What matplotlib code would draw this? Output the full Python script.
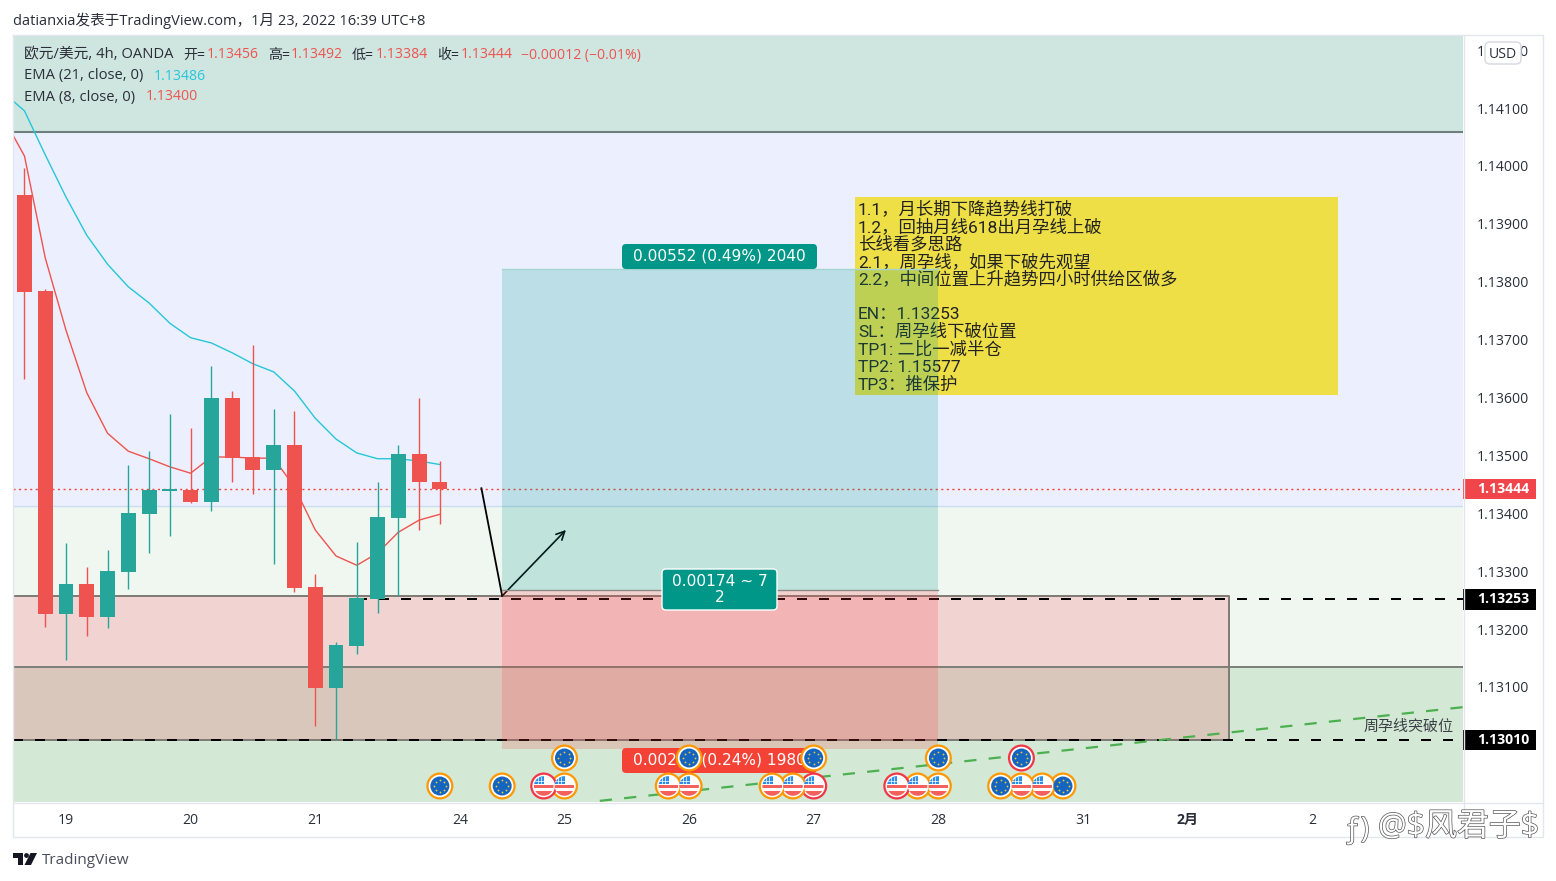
"""
plot.py - EUR/USD 4h TradingView snapshot with zones, position tool and events.
"""

import matplotlib

matplotlib.use("Agg")
import matplotlib.patheffects as pe
import matplotlib.pyplot as plt
import numpy as np
from matplotlib.lines import Line2D
from matplotlib.patches import Circle, FancyBboxPatch, Polygon, Rectangle
from matplotlib.transforms import Affine2D

W, H = 1556, 881
LATIN_CJK = ["Open Sans", "Noto Sans CJK SC"]
NOTE_FONT = ["Roboto", "Noto Sans CJK SC"]

RED = "#ef5350"
GREEN = "#26a69a"
CYAN = "#26c6da"
TEXT = "#2a2e39"
FRAME = "#e4e6ec"

# candles, bar 0 is the first one of the 19th
bars = list(range(-2, 19))
opens = [1.13952, 1.13786, 1.13228, 1.13280, 1.13223, 1.13300, 1.13401, 1.13440, 1.13442, 1.13421, 1.13601,
         1.13499, 1.13477, 1.13520, 1.13274, 1.13100, 1.13173, 1.13254, 1.13394, 1.13504, 1.13456]
highs = [1.13998, 1.13789, 1.13350, 1.13309, 1.13338, 1.13485, 1.13509, 1.13573, 1.13549, 1.13656, 1.13613,
         1.13692, 1.13582, 1.13578, 1.13297, 1.13180, 1.13352, 1.13456, 1.13520, 1.13601, 1.13492]
lows = [1.13634, 1.13205, 1.13148, 1.13190, 1.13204, 1.13271, 1.13333, 1.13363, 1.13419, 1.13406, 1.13456,
        1.13435, 1.13314, 1.13266, 1.13034, 1.13012, 1.13159, 1.13230, 1.13259, 1.13373, 1.13384]
closes = [1.13784, 1.13228, 1.13280, 1.13223, 1.13302, 1.13402, 1.13442, 1.13442, 1.13421, 1.13601, 1.13497,
          1.13477, 1.13520, 1.13273, 1.13100, 1.13174, 1.13256, 1.13395, 1.13504, 1.13456, 1.13444]

ema_bars = list(range(-3, 19))
ema21 = [1.14128, 1.14097, 1.14021, 1.13948, 1.13882, 1.13832, 1.13793, 1.13765, 1.13730, 1.13705, 1.13696,
         1.13679, 1.13660, 1.13646, 1.13613, 1.13566, 1.13530, 1.13506, 1.13496, 1.13496, 1.13492, 1.13486]
ema8 = [1.14084, 1.14019, 1.13843, 1.13718, 1.13610, 1.13540, 1.13509, 1.13496, 1.13482, 1.13471, 1.13499,
        1.13499, 1.13497, 1.13497, 1.13447, 1.13373, 1.13328, 1.13312, 1.13333, 1.13369, 1.13390, 1.13400]

# axes
x_ticks = [0, 6, 12, 19, 24, 30, 36, 42, 49, 54, 60]
x_labels = ["19", "20", "21", "24", "25", "26", "27", "28", "31", "2月", "2"]
y_ticks = [1.131, 1.132, 1.133, 1.134, 1.135, 1.136, 1.137, 1.138, 1.139, 1.140, 1.141, 1.142]
x_range = (-2.552, 67.26)
y_range = (1.12903, 1.14228)

# horizontal zones
zone_top = 1.14061
zone_mid = 1.13414
zone_low = 1.13136
box_top = 1.13259
entry_price = 1.13253
stop_price = 1.13010
last_price = 1.13444
box_right = 56

# position tool
pos_left, pos_right = 21, 42
pos_target, pos_entry, pos_stop = 1.13824, 1.13270, 1.12995

# hand drawn lines
swing_x = [20, 21]
swing_y = [1.13445, 1.13259]
arrow_end = (24.07, 1.13373)
trend_x = [25.7, 67.3]
trend_y = [1.12905, 1.13067]

note_x = [38, 61.24]
note_y = [1.13606, 1.13948]
note_lines = [
    "1.1，月长期下降趋势线打破",
    "1.2，回抽月线618出月孕线上破",
    "长线看多思路",
    "2.1，周孕线，如果下破先观望",
    "2.2，中间位置上升趋势四小时供给区做多",
    "",
    "EN：1.13253",
    "SL：周孕线下破位置",
    "TP1: 二比一减半仓",
    "TP2: 1.15577",
    "TP3：推保护",
]

# economic events on the bottom of the chart
low_bars = [18, 21, 23, 24, 29, 30, 34, 35, 36, 40, 41, 42, 45, 46, 47, 48]
low_kinds = ["eu", "eu", "us", "us", "us", "us", "us", "us", "us", "us", "us", "us", "eu", "us", "us", "eu"]
low_rings = ["o", "o", "r", "o", "o", "o", "o", "o", "r", "r", "o", "o", "o", "o", "o", "o"]
up_bars = [24, 30, 36, 42, 46]
up_kinds = ["eu", "eu", "eu", "eu", "eu"]
up_rings = ["o", "o", "o", "o", "r"]

fig = plt.figure(figsize=(W / 100, H / 100), dpi=100, facecolor="white")
ax = fig.add_axes([13 / W, (H - 802) / H, 1450 / W, 767 / H])
ax.set_xlim(*x_range)
ax.set_ylim(*y_range)
ax.set_facecolor("#d3e9d5")
for s in ax.spines.values():
    s.set_visible(False)

# display pixels with the origin on the top left
PX = Affine2D().scale(1, -1).translate(0, H)


def ptext(x, y, s, size, color=TEXT, family=LATIN_CJK, ha="left", **kw):
    return fig.text(x, y, s, fontsize=size, color=color, family=family, ha=ha, va="center", transform=PX,
                    parse_math=False, **kw)


def pline(xs, ys, color=FRAME, lw=1.0):
    fig.add_artist(Line2D(xs, ys, color=color, lw=lw, transform=PX))


def draw_icon(bar, row_y, kind, ring):
    cx = ax.transData.transform((bar, y_range[0]))[0]
    ring_color = "#ff9800" if ring == "o" else "#f23645"
    ax.add_patch(Circle((cx, row_y), 12.4, fc="white", ec=ring_color, lw=1.6, transform=PX, zorder=20))
    if kind == "eu":
        ax.add_patch(Circle((cx, row_y), 9.5, fc="#1565c0", ec="none", transform=PX, zorder=21))
        ang = np.linspace(0, 2 * np.pi, 8, endpoint=False)
        ax.plot(cx + 6 * np.cos(ang), row_y + 6 * np.sin(ang), ls="none", marker="o", ms=1.3, mfc="#e6c83c",
                mec="none", transform=PX, zorder=22)
    else:
        clip = Circle((cx, row_y), 9.8, fc="white", ec="none", transform=PX, zorder=21)
        ax.add_patch(clip)
        for y0, h, x_end, col in [(-1, 3, 10, "#f4605c"), (5, 5, 10, "#f4605c"), (-10, 8, 0.5, "#2b8fe8")]:
            r = Rectangle((cx - 10, row_y + y0), x_end + 10, h, fc=col, ec="none", transform=PX, zorder=22)
            ax.add_patch(r)
            r.set_clip_path(clip)
        for dx in (-6, -3):
            ax.plot([cx + dx, cx + dx], [row_y - 9, row_y - 2], color="white", lw=0.5, transform=PX, zorder=23)
        ax.plot([cx - 9, cx], [row_y - 5, row_y - 5], color="white", lw=0.5, transform=PX, zorder=23)


# background zones
ax.axhspan(zone_top, y_range[1], fc="#cfe5df", ec="none", zorder=0)
ax.axhspan(zone_mid, zone_top, fc="#ecf0fe", ec="none", zorder=0)
ax.axhspan(zone_low, zone_mid, fc="#f0f7f0", ec="none", zorder=0)
ax.axhline(zone_top, color="#6f7f80", lw=1.5, zorder=1)
ax.axhline(zone_mid, color="#c9dcf0", lw=1.0, zorder=1)
ax.axhline(zone_low, color="#7c7f78", lw=1.4, zorder=3)

ax.add_patch(Rectangle((x_range[0], stop_price), box_right - x_range[0], box_top - stop_price,
                       fc="#fa4355", alpha=0.2, ec="none", zorder=2))
ax.plot([x_range[0], box_right, box_right, x_range[0]], [box_top, box_top, stop_price, stop_price],
        color="#7d7a74", lw=1.4, zorder=3)

# levels
ax.axhline(last_price, color="#f44336", lw=1.0, ls=(0, (1.5, 2.5)), zorder=3)
ax.plot([14, x_range[1]], [entry_price, entry_price], color="black", lw=1.44, ls=(0, (5, 6)), zorder=4)
ax.plot([x_range[0], 67], [stop_price, stop_price], color="black", lw=1.44, ls=(0, (5, 6)), zorder=4)
ax.plot(trend_x, trend_y, color="#4caf50", lw=1.6, ls=(0, (5.5, 5.5)), zorder=4)

# emas under the candles
ax.plot(ema_bars, ema21, color=CYAN, lw=1.0, zorder=5)
ax.plot(ema_bars, ema8, color=RED, lw=1.0, zorder=5)

# candles
o = np.array(opens)
c = np.array(closes)
candle_colors = [RED if b < a else GREEN for a, b in zip(opens, closes)]
ax.vlines(bars, lows, highs, colors=candle_colors, lw=1.0, zorder=6)
ax.bar(bars, np.maximum(np.abs(c - o), 0.00003), bottom=np.minimum(o, c), width=0.72, color=candle_colors, zorder=6)

# note, the position tool goes over it
ax.add_patch(Rectangle((note_x[0], note_y[0]), note_x[1] - note_x[0], note_y[1] - note_y[0],
                       fc="#eedf47", ec="none", zorder=7))
for i, line in enumerate(note_lines):
    ax.text(858, 209 + i * 17.6, line, fontsize=12.5, color="#222222", family=NOTE_FONT, va="center",
            transform=PX, zorder=8, clip_on=False)

ax.plot(swing_x, swing_y, color="black", lw=1.3, zorder=8)
ax.annotate("", xy=arrow_end, xytext=(swing_x[1], swing_y[1]),
            arrowprops=dict(arrowstyle="->,head_length=0.6,head_width=0.3", color="black", lw=1.2,
                            shrinkA=0, shrinkB=0), zorder=8)

# position tool
ax.add_patch(Rectangle((pos_left, pos_entry), pos_right - pos_left, pos_target - pos_entry,
                       fc="#009688", alpha=0.2, ec="none", zorder=9))
ax.add_patch(Rectangle((pos_left, pos_stop), pos_right - pos_left, pos_entry - pos_stop,
                       fc="#fa3c41", alpha=0.2, ec="none", zorder=9))
ax.plot([pos_left, pos_right], [pos_entry, pos_entry], color="#8a8a86", lw=1.0, zorder=9)
ax.plot([pos_left, pos_right], [pos_target, pos_target], color="#a5d5d0", lw=1.0, zorder=9)


def pill(x0, y0, x1, y1, fc, ec="none"):
    ax.add_patch(FancyBboxPatch((x0 + 4, y0 + 4), x1 - x0 - 8, y1 - y0 - 8, boxstyle="round,pad=4,rounding_size=4",
                                fc=fc, ec=ec, lw=1.0, transform=PX, zorder=10))


pill(622, 244, 817, 269, "#009688")
ax.text(719.5, 256, "0.00552 (0.49%) 2040", color="white", fontsize=11.1, family="DejaVu Sans", ha="center",
        va="center", transform=PX, zorder=11)
pill(662, 569, 777, 610, "#009688", ec="white")
ax.text(719.5, 582, "0.00174 ~ 7", color="white", fontsize=11.1, family="DejaVu Sans", ha="center", va="center",
        transform=PX, zorder=11)
ax.text(719.5, 597, "2", color="white", fontsize=11.1, family="DejaVu Sans", ha="center", va="center",
        transform=PX, zorder=11)
pill(622, 748, 817, 773, "#f44336")
ax.text(719.5, 760, "0.00275 (0.24%) 1980", color="white", fontsize=11.1, family="DejaVu Sans", ha="center",
        va="center", transform=PX, zorder=11)

ax.text(1454, 727, "周孕线突破位", fontsize=10.8, color="#3c3f47", family=LATIN_CJK, ha="right", va="center",
        transform=PX, zorder=11)

# events, leftmost icon on top
for b, k, r in reversed(list(zip(low_bars, low_kinds, low_rings))):
    draw_icon(b, 786, k, r)
for b, k, r in zip(up_bars, up_kinds, up_rings):
    draw_icon(b, 758, k, r)

# scales
ax.yaxis.tick_right()
ax.set_yticks(y_ticks)
ax.set_yticklabels([f"{v:.5f}" for v in y_ticks], family=LATIN_CJK, fontsize=10.1, color=TEXT)
ax.set_xticks(x_ticks)
ax.set_xticklabels(x_labels, family=LATIN_CJK, fontsize=10.1, color=TEXT)
ax.get_xticklabels()[x_labels.index("2月")].set_fontweight("bold")
ax.tick_params(axis="y", length=0, pad=10)
ax.tick_params(axis="x", length=0, pad=8)
for t in ax.get_yticklabels():
    t.set_transform(t.get_transform() + Affine2D().translate(0, 1))

# price labels on the scale
trans = ax.get_yaxis_transform()
for price, col in [(last_price, "#f0454a"), (entry_price, "black"), (stop_price, "black")]:
    ax.add_patch(Rectangle((1.0, price - 0.000175), 73 / 1450, 0.00035, fc=col, ec="none", transform=trans,
                           clip_on=False, zorder=12))
    ax.text(1 + 14 / 1450, price, f"{price:.5f}", color="white", fontsize=10.1, fontweight="bold",
            family=LATIN_CJK, va="center", transform=trans, clip_on=False, zorder=13)

# frame
pline([12.5, 1542.5, 1542.5, 12.5, 12.5], [34.5, 34.5, 836.5, 836.5, 34.5])
pline([1463.5, 1463.5], [35, 836])
pline([13, 1542], [802.5, 802.5])

# header and legend
ptext(13, 21, "datianxia发表于TradingView.com，1月 23, 2022 16:39 UTC+8", 10.5)
ptext(23.5, 55, "欧元/美元, 4h, OANDA", 10.6)
ptext(183, 55, "开=", 10.1)
ptext(206.5, 55, "1.13456", 10.1, color=RED)
ptext(268, 55, "高=", 10.1)
ptext(291, 55, "1.13492", 10.1, color=RED)
ptext(352, 55, "低=", 10.1)
ptext(376, 55, "1.13384", 10.1, color=RED)
ptext(437.5, 55, "收=", 10.1)
ptext(460.5, 55, "1.13444", 10.1, color=RED)
ptext(521, 55, "−0.00012 (−0.01%)", 10.1, color=RED)
ptext(23.5, 76, "EMA (21, close, 0)", 10.6)
ptext(154, 76, "1.13486", 10.1, color=CYAN)
ptext(23.5, 97, "EMA (8, close, 0)", 10.6)
ptext(146, 97, "1.13400", 10.1, color=RED)

# currency button over the top tick label
fig.add_artist(FancyBboxPatch((1490, 47), 26, 12, boxstyle="round,pad=5,rounding_size=5", fc="white", ec="#d6d8e0",
                              lw=1.0, transform=PX))
ptext(1503, 54, "USD", 10.1, ha="center")

# footer logo
logo = "#131722"
fig.add_artist(Polygon([(13, 853), (23, 853), (23, 865), (18, 865), (18, 858), (13, 858)], fc=logo, ec="none",
                       transform=PX))
fig.add_artist(Circle((26.5, 855.5), 2.4, fc=logo, ec="none", transform=PX))
fig.add_artist(Polygon([(30.5, 853), (37, 853), (31, 865), (24.5, 865)], fc=logo, ec="none", transform=PX))
ptext(42, 861, "TradingView", 11, color="#4a4e5a")

# watermark sits on a white strip
fig.add_artist(Rectangle((1337, 812), 206, 32, fc="white", ec="none", transform=PX))
halo = [pe.withStroke(linewidth=1.0, foreground="#555555")]
ptext(1344, 830, "ƒ)", 21, color="white", path_effects=halo, zorder=6)
ptext(1378, 827, "@$风君子$", 23, color="white", path_effects=halo, zorder=6)

fig.savefig("out.png", dpi=100)
